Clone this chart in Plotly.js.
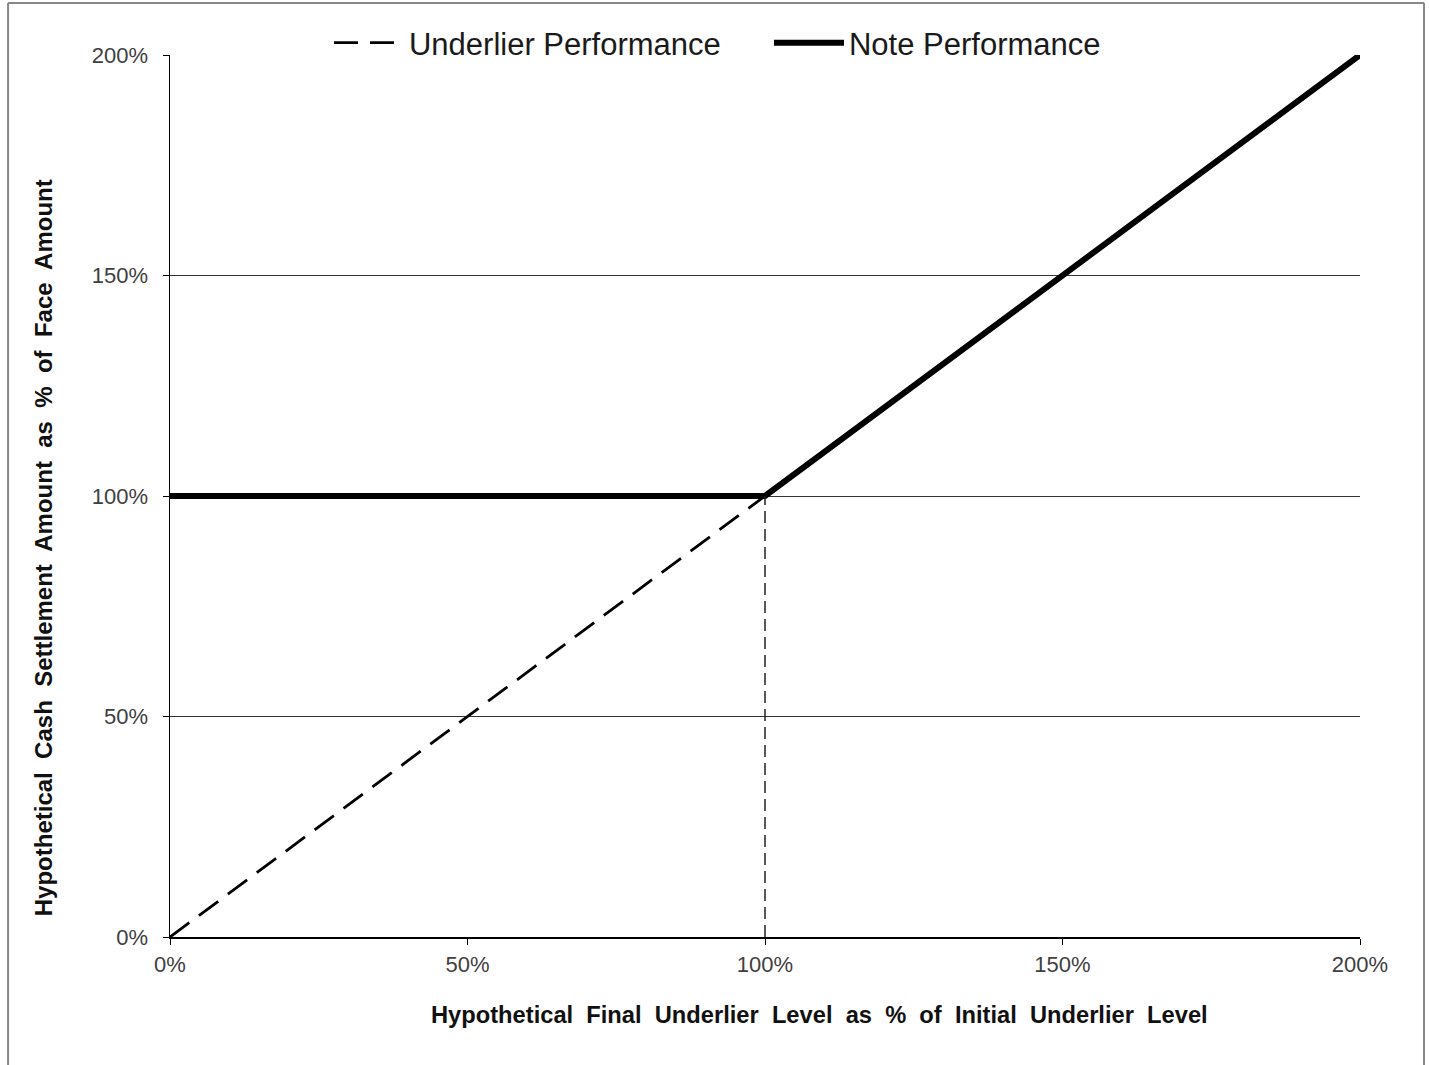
<!DOCTYPE html>
<html>
<head>
<meta charset="utf-8">
<script src="https://cdn.plot.ly/plotly-3.0.1.min.js"></script>
<style>html,body{margin:0;padding:0;background:#fff;}#chart{width:1429px;height:1065px;}</style>
</head>
<body>
<div id="chart"></div>
<script>
// Data (fractions of initial level / face amount)
const underlierX = [0, 1, 2];
const underlierY = [0, 1, 2];
const noteX = [0, 1, 2];
const noteY = [1, 1, 2];
const strikeX = [1, 1];
const strikeY = [0, 1];
const tickVals = [0, 0.5, 1, 1.5, 2];
const tickText = ['0%', '50%', '100%', '150%', '200%'];
const xTitle = 'Hypothetical  Final  Underlier  Level  as  %  of  Initial  Underlier  Level';
const yTitle = 'Hypothetical  Cash  Settlement  Amount  as  %  of  Face  Amount';

const traces = [
  {
    x: underlierX, y: underlierY, mode: 'lines', name: 'Underlier Performance',
    line: {color: '#000', width: 2.8, dash: '24px,12px'}
  },
  {
    x: noteX, y: noteY, mode: 'lines', name: 'Note Performance',
    line: {color: '#000', width: 6}
  },
  {
    x: strikeX, y: strikeY, mode: 'lines', showlegend: false, hoverinfo: 'skip',
    line: {color: '#222', width: 1.5, dash: '12px,6px'}
  }
];

const layout = {
  width: 1429, height: 1065,
  margin: {l: 170, r: 69, t: 55, b: 128},
  paper_bgcolor: '#fff', plot_bgcolor: '#fff',
  font: {family: 'Liberation Sans, Arial, sans-serif', color: '#000'},
  showlegend: true,
  legend: {
    orientation: 'h', x: 0.1336, xanchor: 'left', y: 1.0136, yanchor: 'middle',
    font: {size: 31, color: '#1a1a1a', family: 'Liberation Sans, Arial, sans-serif'},
    bgcolor: 'rgba(0,0,0,0)', itemwidth: 70, traceorder: 'normal',
    entrywidth: 355, entrywidthmode: 'pixels'
  },
  xaxis: {
    range: [0, 2], tickvals: tickVals, ticktext: tickText,
    showgrid: false, zeroline: false, showline: true, linecolor: '#000', linewidth: 1.5,
    ticks: 'outside', ticklen: 6, tickcolor: '#000', tickwidth: 1, ticklabelstandoff: 1,
    tickfont: {size: 22, color: '#404040'}
  },
  yaxis: {
    range: [0, 2], tickvals: tickVals, ticktext: tickText,
    showgrid: true, gridcolor: '#333', gridwidth: 1,
    zeroline: false, showline: true, linecolor: '#000', linewidth: 1.5,
    ticks: 'outside', ticklen: 6, tickcolor: '#000', tickwidth: 1, ticklabelstandoff: 10,
    tickfont: {size: 22, color: '#404040'}
  },
  annotations: [
    {text: '<b>' + xTitle + '</b>', xref: 'paper', yref: 'paper', x: 0.5454, y: -0.0884,
     xanchor: 'center', yanchor: 'middle', showarrow: false, font: {size: 23.7, color: '#111'}},
    {text: '<b>' + yTitle + '</b>', xref: 'paper', yref: 'paper', x: -0.1061, y: 0.4416,
     xanchor: 'center', yanchor: 'middle', textangle: -90, showarrow: false, font: {size: 24, color: '#111'}}
  ],
  shapes: [
    {type: 'line', xref: 'paper', yref: 'paper', x0: -0.1361, x1: -0.1361, y0: 1.059, y1: -0.2, line: {color: '#888', width: 2}},
    {type: 'line', xref: 'paper', yref: 'paper', x0: -0.1361, x1: 1.0538, y0: 1.059, y1: 1.059, line: {color: '#888', width: 2}},
    {type: 'line', xref: 'paper', yref: 'paper', x0: 1.0538, x1: 1.0538, y0: 1.059, y1: -0.2, line: {color: '#888', width: 2}}
  ]
};

Plotly.newPlot('chart', traces, layout, {displayModeBar: false, staticPlot: true});
</script>
</body>
</html>
